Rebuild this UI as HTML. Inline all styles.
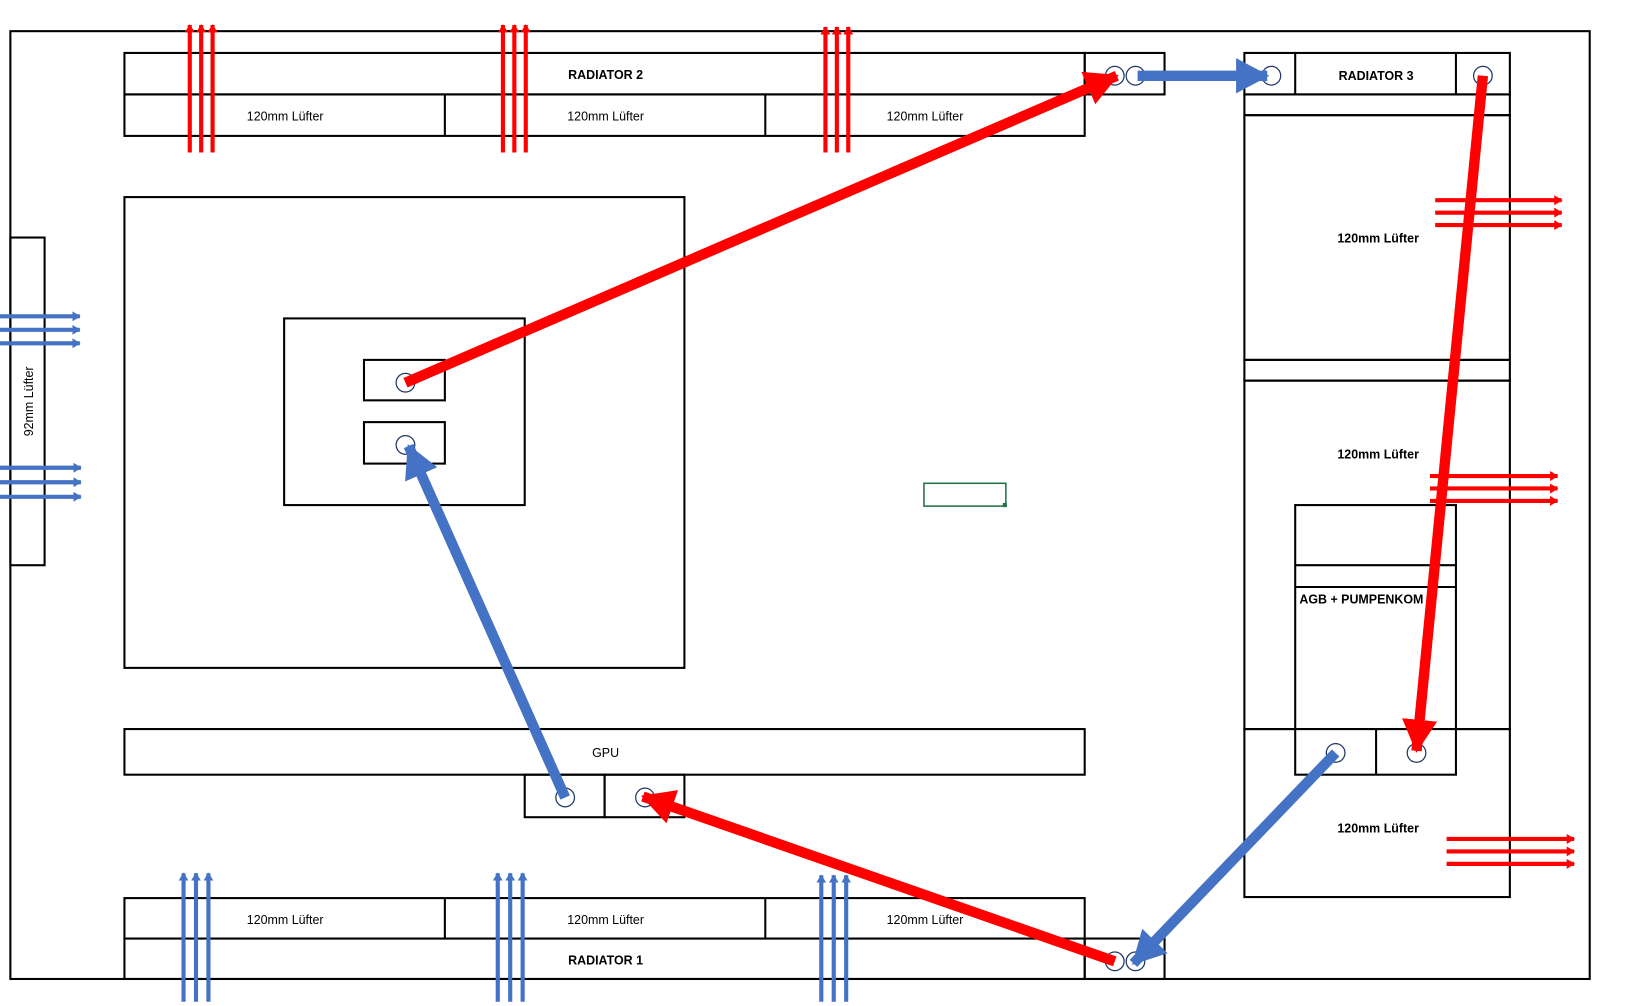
<!DOCTYPE html>
<html><head><meta charset="utf-8"><style>html,body{margin:0;padding:0;background:#fff}svg{display:block}</style></head>
<body>
<svg width="1626" height="1006" viewBox="0 0 1568 970" xmlns="http://www.w3.org/2000/svg" font-family="Liberation Sans, sans-serif">
<defs>
<marker id="hr" markerWidth="3.2" markerHeight="3.4" refX="3" refY="1.7" orient="auto" markerUnits="strokeWidth"><path d="M0,0 L3.2,1.7 L0,3.4 z" fill="#ff0000"/></marker>
<marker id="hb" markerWidth="3.2" markerHeight="3.4" refX="3" refY="1.7" orient="auto" markerUnits="strokeWidth"><path d="M0,0 L3.2,1.7 L0,3.4 z" fill="#4472c4"/></marker>
<marker id="sr" markerWidth="2" markerHeight="2.4" refX="1.8" refY="1.2" orient="auto" markerUnits="strokeWidth"><path d="M0,0 L2,1.2 L0,2.4 z" fill="#ff0000"/></marker>
<marker id="sb" markerWidth="2" markerHeight="2.4" refX="1.8" refY="1.2" orient="auto" markerUnits="strokeWidth"><path d="M0,0 L2,1.2 L0,2.4 z" fill="#4472c4"/></marker>
</defs>
<g fill="none" stroke="#000" stroke-width="2">
<rect x="10" y="30" width="1523" height="914"/>
<!-- radiator 2 -->
<rect x="120" y="51" width="926" height="40"/>
<rect x="120" y="91" width="926" height="40"/>
<line x1="429" y1="91" x2="429" y2="131"/><line x1="738" y1="91" x2="738" y2="131"/>
<rect x="1046" y="51" width="77" height="40"/>
<!-- radiator 3 -->
<rect x="1200" y="51" width="256" height="40"/>
<line x1="1249" y1="51" x2="1249" y2="91"/><line x1="1404" y1="51" x2="1404" y2="91"/>
<rect x="1200" y="91" width="256" height="20"/>
<rect x="1200" y="111" width="256" height="236"/>
<rect x="1200" y="347" width="256" height="20"/>
<rect x="1200" y="367" width="256" height="336"/>
<rect x="1200" y="703" width="256" height="162"/>
<rect x="1249" y="487" width="155" height="260" fill="#fff"/>
<line x1="1249" y1="545" x2="1404" y2="545"/><line x1="1249" y1="566" x2="1404" y2="566"/>
<line x1="1249" y1="703" x2="1404" y2="703"/><line x1="1327" y1="703" x2="1327" y2="747"/>
<!-- CPU -->
<rect x="120" y="190" width="540" height="454"/>
<rect x="274" y="307" width="232" height="180"/>
<rect x="351" y="347" width="78" height="39"/>
<rect x="351" y="407" width="78" height="40"/>
<!-- GPU -->
<rect x="120" y="703" width="926" height="44"/>
<rect x="506" y="747" width="77" height="41"/>
<rect x="583" y="747" width="77" height="41"/>
<!-- radiator 1 -->
<rect x="120" y="866" width="926" height="39"/>
<rect x="120" y="905" width="926" height="39"/>
<line x1="429" y1="866" x2="429" y2="905"/><line x1="738" y1="866" x2="738" y2="905"/>
<rect x="1046" y="905" width="77" height="39"/>
<!-- 92mm -->
<rect x="10" y="229" width="33" height="316"/>
</g>
<rect x="891" y="466" width="79" height="22" fill="none" stroke="#217346" stroke-width="1.5"/>
<rect x="967" y="485" width="4" height="4" fill="#217346"/>
<g fill="none" stroke="#1f3864" stroke-width="1.2">
<circle cx="1075" cy="73" r="9"/><circle cx="1095" cy="73" r="9"/>
<circle cx="1226" cy="73" r="9"/><circle cx="1430" cy="73" r="9"/>
<circle cx="1288" cy="726" r="9"/><circle cx="1366" cy="726" r="9"/>
<circle cx="391" cy="369" r="9"/><circle cx="391" cy="429" r="9"/>
<circle cx="545" cy="769" r="9"/><circle cx="622" cy="769" r="9"/>
<circle cx="1075" cy="927" r="9"/><circle cx="1095" cy="927" r="9"/>
</g>
<g font-size="12" text-anchor="middle" fill="#000">
<text x="584" y="76" font-weight="bold">RADIATOR 2</text>
<text x="275" y="116">120mm Lüfter</text><text x="584" y="116">120mm Lüfter</text><text x="892" y="116">120mm Lüfter</text>
<text x="1327" y="77" font-weight="bold">RADIATOR 3</text>
<text x="1329" y="234" font-weight="bold">120mm Lüfter</text>
<text x="1329" y="442" font-weight="bold">120mm Lüfter</text>
<text x="1329" y="803" font-weight="bold">120mm Lüfter</text>
<text x="1253" y="582" text-anchor="start" font-weight="bold">AGB + PUMPENKOM</text>
<text x="584" y="730">GPU</text>
<text x="275" y="891">120mm Lüfter</text><text x="584" y="891">120mm Lüfter</text><text x="892" y="891">120mm Lüfter</text>
<text x="584" y="930" font-weight="bold">RADIATOR 1</text>
<text transform="translate(32,387) rotate(-90)">92mm Lüfter</text>
</g>
<!-- small air arrows -->
<g stroke="#ff0000" stroke-width="4" marker-end="url(#sr)">
<line x1="183" y1="147" x2="183" y2="24"/><line x1="194" y1="147" x2="194" y2="24"/><line x1="205" y1="147" x2="205" y2="24"/>
<line x1="485" y1="147" x2="485" y2="24"/><line x1="496" y1="147" x2="496" y2="24"/><line x1="507" y1="147" x2="507" y2="24"/>
<line x1="796" y1="147" x2="796" y2="26"/><line x1="807" y1="147" x2="807" y2="26"/><line x1="818" y1="147" x2="818" y2="26"/>
<line x1="1384" y1="193" x2="1506" y2="193"/><line x1="1384" y1="205" x2="1506" y2="205"/><line x1="1384" y1="217" x2="1506" y2="217"/>
<line x1="1379" y1="459" x2="1502" y2="459"/><line x1="1379" y1="471" x2="1502" y2="471"/><line x1="1379" y1="483" x2="1502" y2="483"/>
<line x1="1395" y1="809" x2="1518" y2="809"/><line x1="1395" y1="821" x2="1518" y2="821"/><line x1="1395" y1="833" x2="1518" y2="833"/>
</g>
<g stroke="#4472c4" stroke-width="4" marker-end="url(#sb)">
<line x1="0" y1="305" x2="77" y2="305"/><line x1="0" y1="318" x2="77" y2="318"/><line x1="0" y1="331" x2="77" y2="331"/>
<line x1="0" y1="451" x2="78" y2="451"/><line x1="0" y1="465" x2="78" y2="465"/><line x1="0" y1="479" x2="78" y2="479"/>
<line x1="177" y1="966" x2="177" y2="842"/><line x1="189" y1="966" x2="189" y2="842"/><line x1="201" y1="966" x2="201" y2="842"/>
<line x1="480" y1="966" x2="480" y2="842"/><line x1="492" y1="966" x2="492" y2="842"/><line x1="504" y1="966" x2="504" y2="842"/>
<line x1="792" y1="966" x2="792" y2="844"/><line x1="804" y1="966" x2="804" y2="844"/><line x1="816" y1="966" x2="816" y2="844"/>
</g>
<!-- flow arrows -->
<g stroke-width="10" fill="none">
<line x1="391" y1="369" x2="1077" y2="73" stroke="#ff0000" marker-end="url(#hr)"/>
<line x1="1097" y1="73" x2="1222" y2="73" stroke="#4472c4" marker-end="url(#hb)"/>
<line x1="1430" y1="73" x2="1366" y2="724" stroke="#ff0000" marker-end="url(#hr)"/>
<line x1="1288" y1="726" x2="1093" y2="929" stroke="#4472c4" marker-end="url(#hb)"/>
<line x1="1075" y1="927" x2="620" y2="768" stroke="#ff0000" marker-end="url(#hr)"/>
<line x1="545" y1="769" x2="394" y2="430" stroke="#4472c4" marker-end="url(#hb)"/>
</g>
</svg>
</body></html>
